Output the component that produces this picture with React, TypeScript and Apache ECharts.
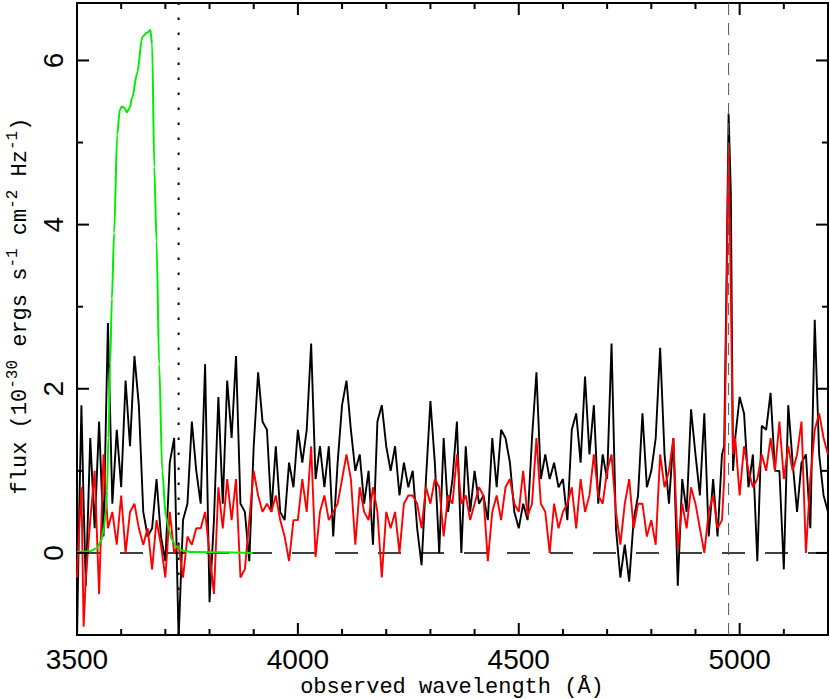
import React, { useEffect, useRef } from "react";
import * as echarts from "echarts";

// observed wavelength grid (Å)
const wavelength = [
  3500, 3505, 3510, 3515, 3520,
  3530, 3540, 3550, 3560, 3570, 3580, 3590, 3600, 3610, 3620,
  3630, 3640, 3650, 3660, 3670, 3680, 3690, 3700, 3710, 3720,
  3730, 3740, 3750, 3760, 3770, 3780, 3790, 3800, 3810, 3820,
  3830, 3840, 3850, 3860, 3870, 3880, 3890, 3900, 3910, 3920,
  3930, 3940, 3950, 3960, 3970, 3980, 3990, 4000, 4010, 4020,
  4030, 4040, 4050, 4060, 4070, 4080, 4090, 4100, 4110, 4120,
  4130, 4140, 4150, 4160, 4170, 4180, 4190, 4200, 4210, 4220,
  4230, 4240, 4250, 4260, 4270, 4280, 4290, 4300, 4310, 4320,
  4330, 4340, 4350, 4360, 4370, 4380, 4390, 4400, 4410, 4420,
  4430, 4440, 4450, 4460, 4470, 4480, 4490, 4500, 4510, 4520,
  4530, 4540, 4550, 4560, 4570, 4580, 4590, 4600, 4610, 4620,
  4630, 4640, 4650, 4660, 4670, 4680, 4690, 4700, 4710, 4720,
  4730, 4740, 4750, 4760, 4770, 4780, 4790, 4800, 4810, 4820,
  4830, 4840, 4850, 4860, 4870, 4880, 4890, 4900, 4910, 4920,
  4930, 4940, 4950, 4960,
  4965, 4970, 4975, 4980, 4985, 4990,
  5000, 5010, 5020, 5030, 5040, 5050, 5060, 5070, 5080, 5090,
  5100, 5110, 5120, 5130, 5140, 5150, 5160, 5170, 5180, 5190, 5200,
];

// black spectrum (10^-30 ergs s^-1 cm^-2 Hz^-1)
const blackFlux = [
  -1.05, 0.5, 1.8, 0.6, -0.4,
  1.4, 0.3, 1.6, 0.2, 2.8, 0.6, 1.5, 0.8, 2.1, 1.3,
  2.4, 1.8, 0.5, 0.2, 0.3, 0.9, 0.2, -0.1, 1.1, 1.4,
  -1.05, 0.4, 0.6, 1.6, 1.0, 0.6, 2.3, -0.6, 0.4, 1.9,
  0.6, 2.1, 1.4, 2.4, 0.6, 0.5, -0.1, 1.3, 2.2, 1.6,
  1.5, 0.5, 1.3, 0.5, 0.4, 1.1, 0.8, 1.5, 1.1, 1.5,
  2.55, 0.9, 1.3, 0.8, 1.3, 0.2, 1.1, 1.8, 2.1, 1.5,
  1.0, 1.2, 0.6, 1.0, 0.1, 1.6, 1.8, 1.3, 1.0, 1.3,
  0.7, 1.1, 0.8, 1.0, 0.3, -0.15, 0.9, 1.85, 1.1, 0.0,
  1.4, 0.5, 0.9, 1.6, 0.0, 1.3, 0.5, 1.0, 0.6, 0.7,
  0.4, 1.4, 0.8, 1.5, 1.4, 1.1, 0.5, 0.3, 0.6, 0.4,
  1.4, 2.2, 0.9, 1.2, 0.9, 1.1, 0.8, 0.9, 0.4, 1.5,
  1.7, 1.1, 2.15, 1.2, 1.8, 0.6, 1.2, 0.9, 2.55, 0.3,
  -0.3, 0.1, -0.35, 0.4, 0.7, 1.7, 0.8, 1.0, 1.4, 2.5,
  1.2, 0.6, 1.4, -0.4, 0.9, 0.5, 1.75, 1.2, 0.7, 1.7,
  0.2, 0.9, 0.2, 1.2,
  1.3, 3.2, 5.35, 4.4, 1.0, 1.4,
  1.9, 1.7, 0.8, 1.2, -0.1, 1.55, 1.5, 1.95, 1.0, 1.0,
  -0.2, 1.8, 1.1, 0.5, 1.1, 1.2, 0.3, 2.84, 1.2, 0.7, 0.5,
];

// red spectrum
const redFlux = [
  -0.3, 0.3, 0.8, -0.9, -0.3,
  0.4, 1.0, -0.5, 1.2, 0.3, 0.5, 0.1, 0.7, 0.0, 0.5,
  0.6, 0.3, 0.1, 0.3, -0.2, 0.4, 0.1, -0.3, 0.5, 0.0,
  0.1, -0.3, 0.2, 0.1, 0.3, 0.3, 0.5, 0.0, -0.5, 0.8,
  0.3, 0.9, 0.4, 0.9, -0.3, -0.2, 0.4, 1.0, 0.7, 0.5,
  0.6, 0.5, 0.7, 0.4, 0.2, -0.1, 0.4, 0.4, 0.9, 0.5,
  1.3, -0.05, 0.5, 0.7, 0.4, 0.5, 0.6, 0.9, 1.2, 0.9,
  0.1, 0.8, 0.5, 0.4, 0.8, 0.5, -0.3, 0.5, 0.3, 0.5,
  0.0, 0.6, 0.7, 0.7, 0.6, 0.3, 0.8, 0.6, 0.9, 0.8,
  0.2, 0.7, 0.6, 1.2, 0.6, 0.7, 0.4, 0.6, 0.8, 0.7,
  -0.1, 0.5, 0.7, 0.4, 0.8, 0.9, 0.6, 0.5, 1.0, 0.45,
  0.6, 1.4, 0.6, 0.5, 0.0, 0.6, 0.3, 0.5, 0.6, 0.8,
  0.3, 0.9, 0.5, 0.7, 1.2, 0.7, 0.6, 1.0, 1.2, 0.5,
  0.1, 0.6, 0.9, 0.3, 0.6, 0.6, 0.2, 0.4, 0.1, 1.2,
  0.8, 1.0, 1.4, 0.05, 0.6, 0.3, 0.8, 0.6, 0.3, 0.0,
  0.5, 0.7, 0.3, 0.4,
  0.9, 2.9, 5.0, 3.2, 1.2, 1.4,
  0.7, 1.3, 1.0, 0.8, 0.9, 1.2, 1.0, 1.4, 1.0, 1.6,
  0.9, 1.3, 1.0, 1.2, 1.6, 0.0, 0.9, 1.5, 1.7, 1.4, 1.2,
];

// green filter curve
const filterWave = [
  3500, 3530, 3545, 3555, 3561, 3565, 3568, 3571, 3575, 3579, 3584, 3591,
  3597, 3602, 3608, 3613, 3619, 3625, 3636, 3648, 3659, 3666, 3670, 3675,
  3680, 3686, 3693, 3701, 3708, 3715, 3725, 3738, 3760, 3898,
];
const filterFlux = [
  0.01, 0.02, 0.06, 0.15, 0.3, 0.5, 0.75, 1.4, 2.3, 3.1, 3.9, 5.1,
  5.4, 5.44, 5.42, 5.37, 5.42, 5.55, 5.84, 6.29, 6.34, 6.37, 6.2, 4.7,
  3.8, 2.3, 1.0, 0.45, 0.28, 0.16, 0.08, 0.03, 0.01, 0.0,
];

// reference lines
const zeroLevel = 0;
const dottedLambda = 3730;
const dashedLambda = 4975;

// axis ranges and ticks
const xMin = 3500;
const xMax = 5200;
const yMin = -1;
const yMax = 6.7;
const xMajor = 500;
const xMajorTicks = [3500, 4000, 4500, 5000];
const xMinorTicks = [3600, 3700, 3800, 3900, 4100, 4200, 4300, 4400, 4600, 4700, 4800, 4900, 5100];
const yMajorTicks = [0, 2, 4, 6];
const yMinorTicks = [-1, 1, 3, 5];

export default function App() {
  const ref = useRef<HTMLDivElement>(null);
  useEffect(() => {
    if (!ref.current) return;
    const chart = echarts.init(ref.current, null, { renderer: "svg" });
    const axisLine = { show: true, onZero: false, lineStyle: { color: "#000", width: 2 } };
    const labelFont = { fontFamily: "Liberation Sans", fontSize: 28, color: "#000" };
    const plain = (v: number) => String(v);
    const mkX = (pos: string, labels: boolean) => ({
      type: "value",
      position: pos,
      min: xMin,
      max: xMax,
      interval: xMajor,
      axisLine: { ...axisLine },
      axisTick: { show: false },
      axisLabel: labels
        ? { show: true, margin: 10, showMaxLabel: false, formatter: plain, ...labelFont }
        : { show: false },
      splitLine: { show: false },
    });
    const mkY = (pos: string, labels: boolean) => ({
      type: "value",
      position: pos,
      min: yMin,
      max: yMax,
      axisLine: { ...axisLine },
      axisTick: { show: false },
      axisLabel: labels
        ? { show: true, margin: 10, rotate: 90, customValues: yMajorTicks, formatter: plain, ...labelFont }
        : { show: false },
      splitLine: { show: false },
    });

    const black = wavelength.map((w, i) => [w, blackFlux[i]]);
    const red = wavelength.map((w, i) => [w, redFlux[i]]);
    const green = filterWave.map((w, i) => [w, filterFlux[i]]);

    // tick marks drawn through the axis scales
    const xTickData = [
      ...xMajorTicks.map((v) => [v, 0, 12]),
      ...xMinorTicks.map((v) => [v, 0, 6]),
    ];
    const yTickData = [
      ...yMajorTicks.map((v) => [xMin, v, 12]),
      ...yMinorTicks.map((v) => [xMin, v, 6]),
    ];
    const tickStroke = { stroke: "#000", lineWidth: 2 };

    chart.setOption({
      animation: false,
      grid: { left: 77, right: 2, top: 3, bottom: 64, containLabel: false },
      xAxis: [mkX("bottom", true), mkX("top", false)],
      yAxis: [mkY("left", true), mkY("right", false)],
      series: [
        {
          type: "line",
          data: [[xMin, zeroLevel], [xMax, zeroLevel]],
          symbol: "none",
          lineStyle: { color: "#000", width: 1.5, type: [23, 20] },
          z: 1,
        },
        {
          type: "line",
          data: [[dottedLambda, yMin], [dottedLambda, yMax]],
          symbol: "none",
          lineStyle: { color: "#000", width: 2, type: [2.5, 12.5] },
          z: 1,
        },
        {
          type: "line",
          data: black,
          symbol: "none",
          lineStyle: { color: "#000", width: 1.9 },
          z: 2,
        },
        {
          type: "line",
          data: red,
          symbol: "none",
          lineStyle: { color: "#ff0000", width: 1.9 },
          z: 3,
        },
        {
          type: "line",
          data: green,
          smooth: 0.3,
          smoothMonotone: "x",
          symbol: "none",
          lineStyle: { color: "#00ee00", width: 2 },
          z: 4,
        },
        {
          type: "line",
          data: [[dashedLambda, yMin], [dashedLambda, yMax]],
          symbol: "none",
          lineStyle: { color: "#555", width: 1, type: [12, 8] },
          z: 5,
        },
        {
          type: "custom",
          clip: false,
          silent: true,
          z: 10,
          data: xTickData,
          renderItem: (params: any, api: any) => {
            const v = api.value(0);
            const len = api.value(2);
            const b = api.coord([v, yMin]);
            const t = api.coord([v, yMax]);
            return {
              type: "group",
              children: [
                { type: "line", shape: { x1: b[0], y1: b[1], x2: b[0], y2: b[1] - len }, style: tickStroke },
                { type: "line", shape: { x1: t[0], y1: t[1], x2: t[0], y2: t[1] + len }, style: tickStroke },
              ],
            };
          },
        },
        {
          type: "custom",
          clip: false,
          silent: true,
          z: 10,
          data: yTickData,
          renderItem: (params: any, api: any) => {
            const v = api.value(1);
            const len = api.value(2);
            const l = api.coord([xMin, v]);
            const r = api.coord([xMax, v]);
            return {
              type: "group",
              children: [
                { type: "line", shape: { x1: l[0], y1: l[1], x2: l[0] + len, y2: l[1] }, style: tickStroke },
                { type: "line", shape: { x1: r[0], y1: r[1], x2: r[0] - len, y2: r[1] }, style: tickStroke },
              ],
            };
          },
        },
      ],
      graphic: [
        {
          type: "text",
          x: 452,
          y: 687,
          style: {
            text: "observed wavelength (Å)",
            fontFamily: "Liberation Mono",
            fontSize: 22,
            fill: "#000",
            textAlign: "center",
            textVerticalAlign: "middle",
          },
        },
        {
          type: "text",
          x: 18,
          y: 306,
          rotation: Math.PI / 2,
          style: {
            text: "{m|flux (10}{s|-30}{m| ergs s}{s|-1}{m| cm}{s|-2}{m| Hz}{s|-1}{m|)}",
            fill: "#000",
            textAlign: "center",
            textVerticalAlign: "middle",
            rich: {
              m: { fontFamily: "Liberation Mono", fontSize: 22, lineHeight: 26, verticalAlign: "bottom" },
              s: { fontFamily: "Liberation Mono", fontSize: 16, lineHeight: 16, verticalAlign: "top", padding: [0, 0, 26, 0] },
            },
          },
        },
      ],
    });
    return () => chart.dispose();
  }, []);
  return (
    <div
      ref={ref}
      style={{ position: "absolute", left: 0, top: 0, width: 830, height: 699 }}
    />
  );
}
